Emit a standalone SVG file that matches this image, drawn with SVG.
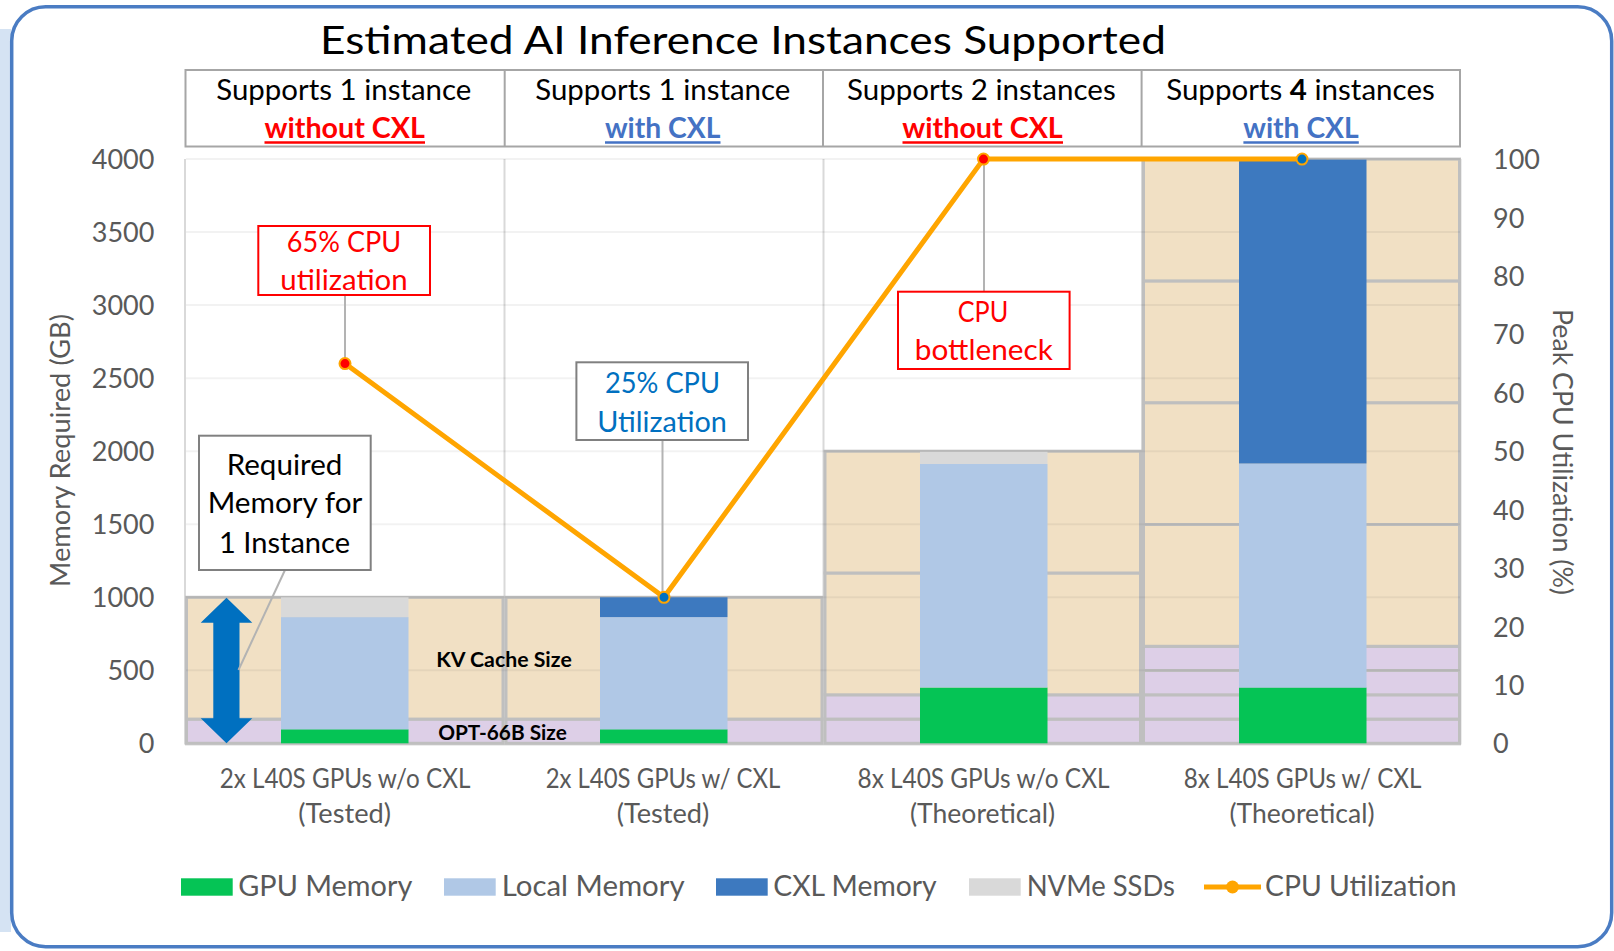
<svg xmlns="http://www.w3.org/2000/svg" width="1614" height="951" viewBox="0 0 1614 951">
  <style>
    text { font-family: Lato, 'Liberation Sans', 'DejaVu Sans', sans-serif; }
    .title { font-size: 39px; fill: #000; }
    .hd { font-size: 29px; fill: #000; }
    .hdr { font-size: 29px; font-weight: bold; fill: #ff0000; }
    .hdb { font-size: 29px; font-weight: bold; fill: #4472c4; }
    .ax { font-size: 27px; fill: #595959; }
    .axl { font-size: 27px; fill: #595959; text-anchor: end; }
    .xl { font-size: 26px; fill: #595959; text-anchor: middle; }
    .lg { font-size: 28px; fill: #595959; }
    .co { font-size: 28px; text-anchor: middle; }
    .inl { font-size: 21px; font-weight: bold; fill: #000; text-anchor: middle; }
    .grid { stroke: #000; stroke-opacity: 0.05; stroke-width: 2; }
    .vsep { stroke: #d9d9d9; stroke-width: 2; }
    .kv { fill: #f1e0c4; stroke: #bfbfbf; stroke-width: 3; }
    .opt { fill: #ddcfe7; stroke: #bfbfbf; stroke-width: 3; }
    .gpu { fill: #05c455; }
    .loc { fill: #b0c8e6; }
    .cxl { fill: #3d79bf; }
    .nvme { fill: #d9d9d9; }
    .lead { stroke: #b3b3b3; stroke-width: 2; fill: none; }
    .cpu { stroke: #ffa500; stroke-width: 5; fill: none; stroke-linejoin: round; }
  </style>

  <!-- side strip and outer frame -->
  <rect x="0" y="29" width="11" height="903" fill="#d5e3f3"/>
  <rect x="11.7" y="6.7" width="1600" height="940" rx="34" ry="34" fill="#fff" stroke="#4a7cc3" stroke-width="3.5"/>

  <!-- chart title -->
  <text class="title" x="743" y="53.5" text-anchor="middle" textLength="846" lengthAdjust="spacingAndGlyphs">Estimated AI Inference Instances Supported</text>

  <!-- header table -->
  <g id="header">
    <rect x="185.5" y="70" width="1274.5" height="76.5" fill="#fff" stroke="#a6a6a6" stroke-width="2"/>
    <line x1="504.7" y1="70" x2="504.7" y2="146.5" stroke="#a6a6a6" stroke-width="2"/>
    <line x1="823" y1="70" x2="823" y2="146.5" stroke="#a6a6a6" stroke-width="2"/>
    <line x1="1141.6" y1="70" x2="1141.6" y2="146.5" stroke="#a6a6a6" stroke-width="2"/>

    <text class="hd" x="343.8" y="100" text-anchor="middle" textLength="255" lengthAdjust="spacingAndGlyphs">Supports 1 instance</text>
    <text class="hdr" x="344.7" y="137.5" text-anchor="middle" textLength="160.5" lengthAdjust="spacingAndGlyphs">without CXL</text>
    <line x1="264.5" y1="142.6" x2="425" y2="142.6" stroke="#ff0000" stroke-width="2.5"/>

    <text class="hd" x="662.8" y="100" text-anchor="middle" textLength="255" lengthAdjust="spacingAndGlyphs">Supports 1 instance</text>
    <text class="hdb" x="662.7" y="137.5" text-anchor="middle" textLength="115.5" lengthAdjust="spacingAndGlyphs">with CXL</text>
    <line x1="605" y1="142.6" x2="720.5" y2="142.6" stroke="#4472c4" stroke-width="2.5"/>

    <text class="hd" x="981.4" y="100" text-anchor="middle" textLength="268.6" lengthAdjust="spacingAndGlyphs">Supports 2 instances</text>
    <text class="hdr" x="982.5" y="137.5" text-anchor="middle" textLength="160.5" lengthAdjust="spacingAndGlyphs">without CXL</text>
    <line x1="902.5" y1="142.6" x2="1063" y2="142.6" stroke="#ff0000" stroke-width="2.5"/>

    <text class="hd" x="1300.5" y="100" text-anchor="middle" textLength="268.6" lengthAdjust="spacingAndGlyphs">Supports <tspan font-weight="bold">4</tspan> instances</text>
    <text class="hdb" x="1301" y="137.5" text-anchor="middle" textLength="115.5" lengthAdjust="spacingAndGlyphs">with CXL</text>
    <line x1="1243.4" y1="142.6" x2="1358.8" y2="142.6" stroke="#4472c4" stroke-width="2.5"/>
  </g>

  <!-- plot area: category separators and axis line -->
  <g id="plot-frame">
    <line class="vsep" x1="185" y1="159" x2="185" y2="744.5"/>
    <line class="vsep" x1="504.5" y1="159" x2="504.5" y2="744.5"/>
    <line class="vsep" x1="823.5" y1="159" x2="823.5" y2="744.5"/>
    <line class="vsep" x1="1142" y1="159" x2="1142" y2="744.5"/>
    <line class="vsep" x1="1460.5" y1="159" x2="1460.5" y2="744.5"/>
    <line class="vsep" x1="185" y1="744.5" x2="1461" y2="744.5"/>
  </g>

  <!-- per-instance footprint: OPT-66B weights + KV cache -->
  <g id="cat1-footprint">
    <rect class="opt" x="186.5" y="719.1" width="316.5" height="24.2"/>
    <rect class="kv" x="186.5" y="597.3" width="316.5" height="121.8"/>
  </g>
  <g id="cat2-footprint">
    <rect class="opt" x="506" y="719.1" width="316" height="24.2"/>
    <rect class="kv" x="506" y="597.3" width="316" height="121.8"/>
  </g>
  <g id="cat3-footprint">
    <rect class="opt" x="825" y="719.1" width="315.5" height="24.2"/>
    <rect class="opt" x="825" y="694.8" width="315.5" height="24.3"/>
    <rect class="kv" x="825" y="573" width="315.5" height="121.8"/>
    <rect class="kv" x="825" y="451.2" width="315.5" height="121.8"/>
  </g>
  <g id="cat4-footprint">
    <rect class="opt" x="1143.5" y="719.1" width="316" height="24.2"/>
    <rect class="opt" x="1143.5" y="694.8" width="316" height="24.3"/>
    <rect class="opt" x="1143.5" y="670.5" width="316" height="24.3"/>
    <rect class="opt" x="1143.5" y="646.3" width="316" height="24.2"/>
    <rect class="kv" x="1143.5" y="524.5" width="316" height="121.8"/>
    <rect class="kv" x="1143.5" y="402.7" width="316" height="121.8"/>
    <rect class="kv" x="1143.5" y="280.9" width="316" height="121.8"/>
    <rect class="kv" x="1143.5" y="159.1" width="316" height="121.8"/>
  </g>

  <!-- horizontal gridlines every 500 GB -->
  <g id="gridlines">
    <line class="grid" x1="186" y1="159.1" x2="1460" y2="159.1"/>
    <line class="grid" x1="186" y1="232.1" x2="1460" y2="232.1"/>
    <line class="grid" x1="186" y1="305.1" x2="1460" y2="305.1"/>
    <line class="grid" x1="186" y1="378.2" x2="1460" y2="378.2"/>
    <line class="grid" x1="186" y1="451.2" x2="1460" y2="451.2"/>
    <line class="grid" x1="186" y1="524.2" x2="1460" y2="524.2"/>
    <line class="grid" x1="186" y1="597.2" x2="1460" y2="597.2"/>
    <line class="grid" x1="186" y1="670.3" x2="1460" y2="670.3"/>
  </g>

  <!-- stacked memory bars -->
  <g id="bar-2x-no-cxl">
    <rect class="gpu" x="281" y="729.3" width="127.5" height="14"/>
    <rect class="loc" x="281" y="617.1" width="127.5" height="112.2"/>
    <rect class="nvme" x="281" y="597.3" width="127.5" height="19.8"/>
  </g>
  <g id="bar-2x-cxl">
    <rect class="gpu" x="600" y="729.3" width="127.5" height="14"/>
    <rect class="loc" x="600" y="617.1" width="127.5" height="112.2"/>
    <rect class="cxl" x="600" y="597.3" width="127.5" height="19.8"/>
  </g>
  <g id="bar-8x-no-cxl">
    <rect class="gpu" x="920" y="687.5" width="127.5" height="55.8"/>
    <rect class="loc" x="920" y="464" width="127.5" height="223.5"/>
    <rect class="nvme" x="920" y="451.8" width="127.5" height="12.2"/>
  </g>
  <g id="bar-8x-cxl">
    <rect class="gpu" x="1239" y="687.5" width="127.5" height="55.8"/>
    <rect class="loc" x="1239" y="463.5" width="127.5" height="224"/>
    <rect class="cxl" x="1239" y="159.6" width="127.5" height="303.9"/>
  </g>

  <!-- in-plot labels -->
  <text class="inl" x="504" y="666.5" textLength="135.5" lengthAdjust="spacingAndGlyphs">KV Cache Size</text>
  <text class="inl" x="502.5" y="740" textLength="128.7" lengthAdjust="spacingAndGlyphs">OPT-66B Size</text>

  <!-- double arrow spanning one instance -->
  <g id="instance-arrow">
    <polygon fill="#0070c0" points="226.5,597.7 252.3,622.7 239.5,622.7 239.5,718.3 252.3,718.3 226.5,743.3 200.7,718.3 213.3,718.3 213.3,622.7 200.7,622.7"/>
  </g>

  <!-- connectors: callout leaders and CPU utilization series -->
  <g id="connectors">
    <line class="lead" x1="285" y1="570" x2="238.5" y2="670"/>
    <line class="lead" x1="345" y1="295" x2="345" y2="363.6"/>
    <line class="lead" x1="662.5" y1="440" x2="662.5" y2="597.3"/>
    <line class="lead" x1="984" y1="291.7" x2="984" y2="159.1"/>
    <polyline class="cpu" points="345,363.6 664,597.3 983.5,159.1 1302,159.1"/>
    <circle cx="345" cy="363.6" r="5.5" fill="#ff0000" stroke="#ffa500" stroke-width="2"/>
    <circle cx="664" cy="597.3" r="5.5" fill="#0070c0" stroke="#ffa500" stroke-width="2"/>
    <circle cx="983.5" cy="159.1" r="5.5" fill="#ff0000" stroke="#ffa500" stroke-width="2"/>
    <circle cx="1302" cy="159.1" r="5.5" fill="#0070c0" stroke="#ffa500" stroke-width="2"/>
  </g>

  <!-- callouts -->
  <g id="callout-65">
    <rect x="258.3" y="226" width="171.7" height="69" fill="#fff" stroke="#ff0000" stroke-width="2"/>
    <text class="co" x="344" y="251.7" fill="#ff0000" textLength="114.3" lengthAdjust="spacingAndGlyphs">65% CPU</text>
    <text class="co" x="344" y="289.5" fill="#ff0000" textLength="127.3" lengthAdjust="spacingAndGlyphs">utilization</text>
  </g>
  <g id="callout-required">
    <rect x="199" y="435.7" width="171.7" height="134.3" fill="#fff" stroke="#808080" stroke-width="2"/>
    <text class="co" x="284.5" y="475" fill="#000" textLength="115.7" lengthAdjust="spacingAndGlyphs">Required</text>
    <text class="co" x="285" y="513.3" fill="#000" textLength="154.7" lengthAdjust="spacingAndGlyphs">Memory for</text>
    <text class="co" x="284.5" y="552.5" fill="#000" textLength="131" lengthAdjust="spacingAndGlyphs">1 Instance</text>
  </g>
  <g id="callout-25">
    <rect x="576.4" y="362.3" width="171.6" height="77.7" fill="#fff" stroke="#808080" stroke-width="2"/>
    <text class="co" x="662.5" y="393.3" fill="#0070c0" textLength="115" lengthAdjust="spacingAndGlyphs">25% CPU</text>
    <text class="co" x="662" y="431.7" fill="#0070c0" textLength="129.6" lengthAdjust="spacingAndGlyphs">Utilization</text>
  </g>
  <g id="callout-bottleneck">
    <rect x="898" y="291.7" width="171.6" height="77.3" fill="#fff" stroke="#ff0000" stroke-width="2"/>
    <text class="co" x="983" y="321.7" fill="#ff0000" textLength="50.5" lengthAdjust="spacingAndGlyphs">CPU</text>
    <text class="co" x="983.8" y="360" fill="#ff0000" textLength="138" lengthAdjust="spacingAndGlyphs">bottleneck</text>
  </g>

  <!-- left axis -->
  <g id="axis-left">
    <text class="axl" x="154.4" y="169.1">4000</text>
    <text class="axl" x="154.4" y="242.1">3500</text>
    <text class="axl" x="154.4" y="315.1">3000</text>
    <text class="axl" x="154.4" y="388.2">2500</text>
    <text class="axl" x="154.4" y="461.2">2000</text>
    <text class="axl" x="154.4" y="534.2">1500</text>
    <text class="axl" x="154.4" y="607.2">1000</text>
    <text class="axl" x="154.4" y="680.3">500</text>
    <text class="axl" x="154.4" y="753.3">0</text>
    <text class="ax" transform="translate(70,450.5) rotate(-90)" text-anchor="middle" textLength="273" lengthAdjust="spacingAndGlyphs">Memory Required (GB)</text>
  </g>

  <!-- right axis -->
  <g id="axis-right">
    <text class="ax" x="1493" y="169.1">100</text>
    <text class="ax" x="1493" y="227.5">90</text>
    <text class="ax" x="1493" y="285.9">80</text>
    <text class="ax" x="1493" y="344.4">70</text>
    <text class="ax" x="1493" y="402.8">60</text>
    <text class="ax" x="1493" y="461.2">50</text>
    <text class="ax" x="1493" y="519.6">40</text>
    <text class="ax" x="1493" y="578">30</text>
    <text class="ax" x="1493" y="636.5">20</text>
    <text class="ax" x="1493" y="694.9">10</text>
    <text class="ax" x="1493" y="753.3">0</text>
    <text class="ax" transform="translate(1553,452) rotate(90)" text-anchor="middle" textLength="286" lengthAdjust="spacingAndGlyphs">Peak CPU Utilization (%)</text>
  </g>

  <!-- category labels -->
  <g id="axis-bottom">
    <text class="xl" x="345" y="788" textLength="250.7" lengthAdjust="spacingAndGlyphs">2x L40S GPUs w/o CXL</text>
    <text class="xl" x="344.7" y="823" textLength="92.7" lengthAdjust="spacingAndGlyphs">(Tested)</text>
    <text class="xl" x="663" y="788" textLength="234.7" lengthAdjust="spacingAndGlyphs">2x L40S GPUs w/ CXL</text>
    <text class="xl" x="663" y="823" textLength="92.7" lengthAdjust="spacingAndGlyphs">(Tested)</text>
    <text class="xl" x="983.5" y="788" textLength="252" lengthAdjust="spacingAndGlyphs">8x L40S GPUs w/o CXL</text>
    <text class="xl" x="982.5" y="823" textLength="145" lengthAdjust="spacingAndGlyphs">(Theoretical)</text>
    <text class="xl" x="1302.6" y="788" textLength="237.8" lengthAdjust="spacingAndGlyphs">8x L40S GPUs w/ CXL</text>
    <text class="xl" x="1302" y="823" textLength="145" lengthAdjust="spacingAndGlyphs">(Theoretical)</text>
  </g>

  <!-- legend -->
  <g id="legend">
    <rect class="gpu" x="181" y="878.3" width="51.7" height="17.4"/>
    <text class="lg" x="238.3" y="895.7" textLength="174" lengthAdjust="spacingAndGlyphs">GPU Memory</text>
    <rect class="loc" x="444" y="878.3" width="51.7" height="17.4"/>
    <text class="lg" x="501.7" y="895.7" textLength="183" lengthAdjust="spacingAndGlyphs">Local Memory</text>
    <rect class="cxl" x="716" y="878.3" width="51.7" height="17.4"/>
    <text class="lg" x="773.3" y="895.7" textLength="163.4" lengthAdjust="spacingAndGlyphs">CXL Memory</text>
    <rect class="nvme" x="969" y="878.3" width="51.7" height="17.4"/>
    <text class="lg" x="1026.7" y="895.7" textLength="148.3" lengthAdjust="spacingAndGlyphs">NVMe SSDs</text>
    <line x1="1204" y1="887" x2="1261" y2="887" stroke="#ffa500" stroke-width="5"/>
    <circle cx="1232.5" cy="887" r="6.5" fill="#ffa500"/>
    <text class="lg" x="1265" y="895.7" textLength="191.5" lengthAdjust="spacingAndGlyphs">CPU Utilization</text>
  </g>
</svg>
